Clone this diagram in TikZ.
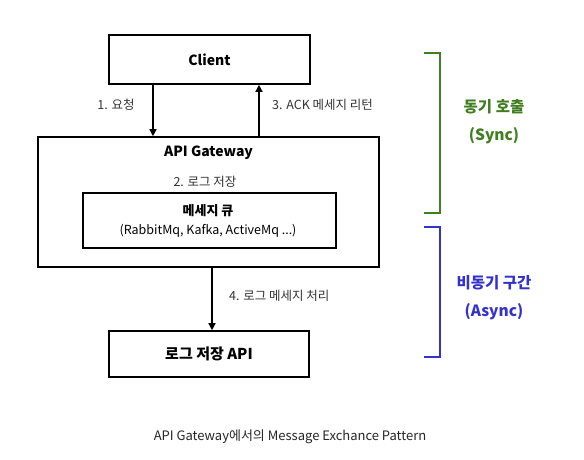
\documentclass[tikz,border=0pt]{standalone}
\usepackage{fontspec}
\setmainfont{Noto Sans CJK KR}
\usetikzlibrary{arrows.meta}
\definecolor{syncgreen}{HTML}{3F7F1F}
\definecolor{asyncblue}{HTML}{3333CC}
\tikzset{
  box/.style={draw=black, line width=1.6pt, fill=white},
  conn/.style={line width=1.4pt, -{Triangle[length=7pt,width=7pt]}},
  lbl/.style={font=\fontsize{12.5}{14}\selectfont, text=black!80, inner sep=0pt},
  ttl/.style={font=\bfseries\fontsize{14}{16}\selectfont, inner sep=0pt},
  brk/.style={line width=2.2pt},
  side/.style={font=\bfseries\fontsize{15.5}{28}\selectfont, align=center, inner sep=0pt},
}
\begin{document}
\begin{tikzpicture}[x=1pt,y=-1pt]
\useasboundingbox[fill=white] (0,0) rectangle (584,459);
% boxes
\node[box, minimum width=201pt, minimum height=49pt] (client) at (209.5,59.5) {};
\node[ttl] at (client.center) {Client};
\node[box, minimum width=341pt, minimum height=130pt] (gw) at (208.5,202) {};
\node[ttl] (gwt) at (208.5,153) {API Gateway};
\node[lbl] (save) at (205,182) {2. 로그 저장};
\node[box, line width=1.4pt, minimum width=253pt, minimum height=55pt] (mq) at (209.5,220.5) {};
\node[font=\bfseries\fontsize{13}{15}\selectfont, inner sep=0pt] (mqt) at (208,211) {메세지 큐};
\node[font=\fontsize{12.5}{14}\selectfont, inner sep=0pt] (mqs) at (208,231) {(RabbitMq, Kafka, ActiveMq ...)};
\node[box, minimum width=200pt, minimum height=46pt] (log) at (209,354) {};
\node[ttl, font=\bfseries\fontsize{15}{17}\selectfont] at (log.center) {로그 저장 API};
% connectors
\coordinate (c1) at (client.south -| 153,0);
\coordinate (g1) at (gw.north -| 153,0);
\draw[conn] (c1) -- (g1);
\coordinate (c3) at (client.south -| 259,0);
\coordinate (g3) at (gw.north -| 259,0);
\draw[conn] (g3) -- (c3);
\coordinate (g4) at (gw.south -| 212,0);
\coordinate (l4) at (log.north -| 212,0);
\draw[conn] (g4) -- (l4);
\node[lbl] (l1) at (116,105) {1. 요청};
\node[lbl, anchor=west] (l3) at (272,105) {3. ACK 메세지 리턴};
\node[lbl, anchor=west] (l4t) at (229,296) {4. 로그 메세지 처리};
% brackets
\draw[brk, syncgreen] (424,53) -- (440,53) -- (440,213) -- (424,213);
\draw[brk, asyncblue] (424,227) -- (440,227) -- (440,357) -- (424,357);
\node[side, text=syncgreen] (sync) at (494,122) {동기 호출\\(Sync)};
\node[side, text=asyncblue] (async) at (494,298) {비동기 구간\\(Async)};
% caption
\node[font=\fontsize{13}{15}\selectfont, text=black!85, inner sep=0pt] (cap) at (290,437) {API Gateway에서의 Message Exchance Pattern};
\end{tikzpicture}
\end{document}
